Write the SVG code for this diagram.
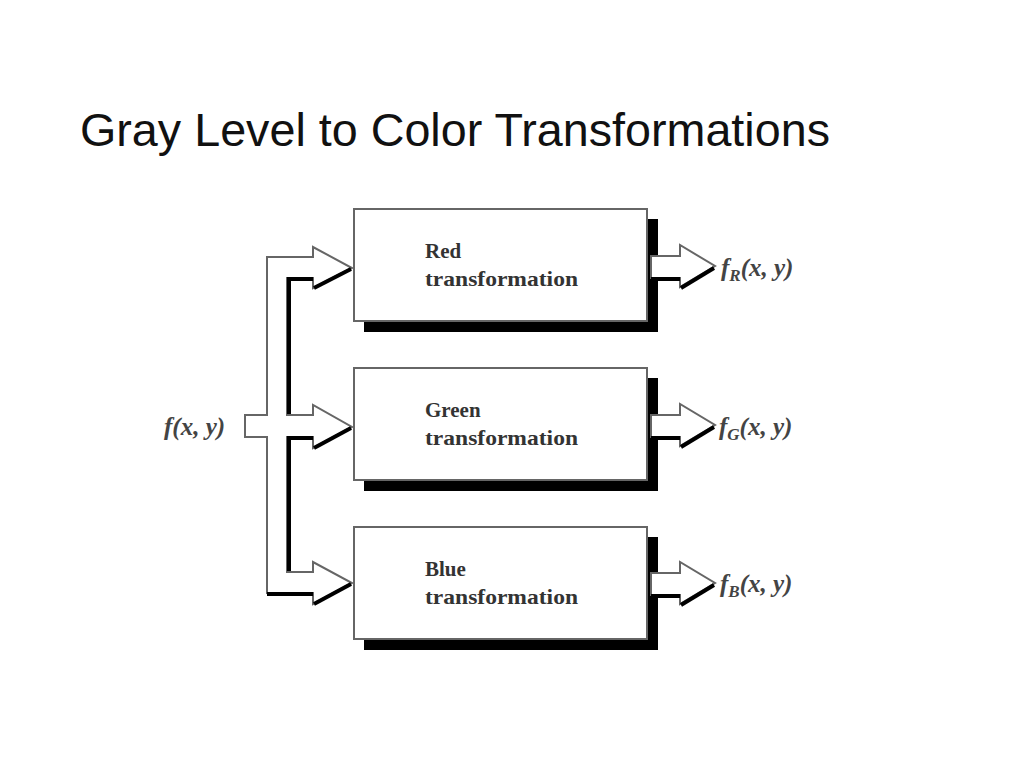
<svg xmlns="http://www.w3.org/2000/svg" width="1024" height="768" viewBox="0 0 1024 768">
<style>
.box{fill:#fff;stroke:#666;stroke-width:2}
.sh{fill:#000}
.lbl{font-family:"Liberation Serif",serif;font-size:21px;fill:#333;font-weight:bold}
.m{font-family:"Liberation Serif",serif;font-size:25px;font-style:italic;fill:#444;font-weight:bold}
.ar{fill:#fff;stroke:#666;stroke-width:2;stroke-linejoin:miter}
.k{stroke:#000;stroke-width:4;fill:none}
</style>
<rect width="1024" height="768" fill="#fff"/>
<text x="80" y="146" font-family="Liberation Sans,Arial,sans-serif" font-size="46" fill="#111" textLength="750" lengthAdjust="spacingAndGlyphs">Gray Level to Color Transformations</text>
<g id="connectors">
<polygon class="ar" points="245,415 267,415 267,257 313,257 313,247 352,268 313,288 313,278 287,278 287,415 313,415 313,405 352,427 313,448 313,437 287,437 287,572 313,572 313,562 352,583 313,604 313,593 267,593 267,437 245,437"/>
<polyline class="k" points="313,279 289,279 289,414"/>
<polyline class="k" points="313,438 289,438 289,571"/>
<line class="k" x1="267" y1="594" x2="313" y2="594"/>
<line class="k" x1="314" y1="288" x2="351" y2="269"/>
<line class="k" x1="314" y1="448" x2="351" y2="428"/>
<line class="k" x1="314" y1="604" x2="351" y2="584"/>
</g>
<g id="red">
<rect class="sh" x="364" y="219" width="294" height="113"/>
<rect class="box" x="354" y="209" width="293" height="112"/>
<text class="lbl" x="425" y="258">Red</text>
<text class="lbl" x="425" y="286" textLength="153" lengthAdjust="spacingAndGlyphs">transformation</text>
</g>
<g id="green">
<rect class="sh" x="364" y="378" width="294" height="113"/>
<rect class="box" x="354" y="368" width="293" height="112"/>
<text class="lbl" x="425" y="417">Green</text>
<text class="lbl" x="425" y="445" textLength="153" lengthAdjust="spacingAndGlyphs">transformation</text>
</g>
<g id="blue">
<rect class="sh" x="364" y="537" width="294" height="113"/>
<rect class="box" x="354" y="527" width="293" height="112"/>
<text class="lbl" x="425" y="576">Blue</text>
<text class="lbl" x="425" y="604" textLength="153" lengthAdjust="spacingAndGlyphs">transformation</text>
</g>
<g id="outputs">
<polygon class="ar" points="651,256 680,256 680,245 715,266 680,287 680,278 651,278"/>
<line class="k" x1="681" y1="288" x2="714" y2="268"/>
<line class="k" x1="651" y1="279" x2="680" y2="279"/>
<polygon class="ar" points="651,415 680,415 680,404 715,425 680,446 680,437 651,437"/>
<line class="k" x1="681" y1="447" x2="714" y2="427"/>
<line class="k" x1="651" y1="438" x2="680" y2="438"/>
<polygon class="ar" points="651,573 680,573 680,562 715,583 680,604 680,595 651,595"/>
<line class="k" x1="681" y1="605" x2="714" y2="585"/>
<line class="k" x1="651" y1="596" x2="680" y2="596"/>
</g>
<g id="labels">
<text class="m" x="164" y="435">f(x, y)</text>
<text class="m" x="721" y="276">f<tspan font-size="17" dy="5">R</tspan><tspan dy="-5">(x, y)</tspan></text>
<text class="m" x="719" y="435">f<tspan font-size="17" dy="5">G</tspan><tspan dy="-5">(x, y)</tspan></text>
<text class="m" x="720" y="592">f<tspan font-size="17" dy="5">B</tspan><tspan dy="-5">(x, y)</tspan></text>
</g>
</svg>
